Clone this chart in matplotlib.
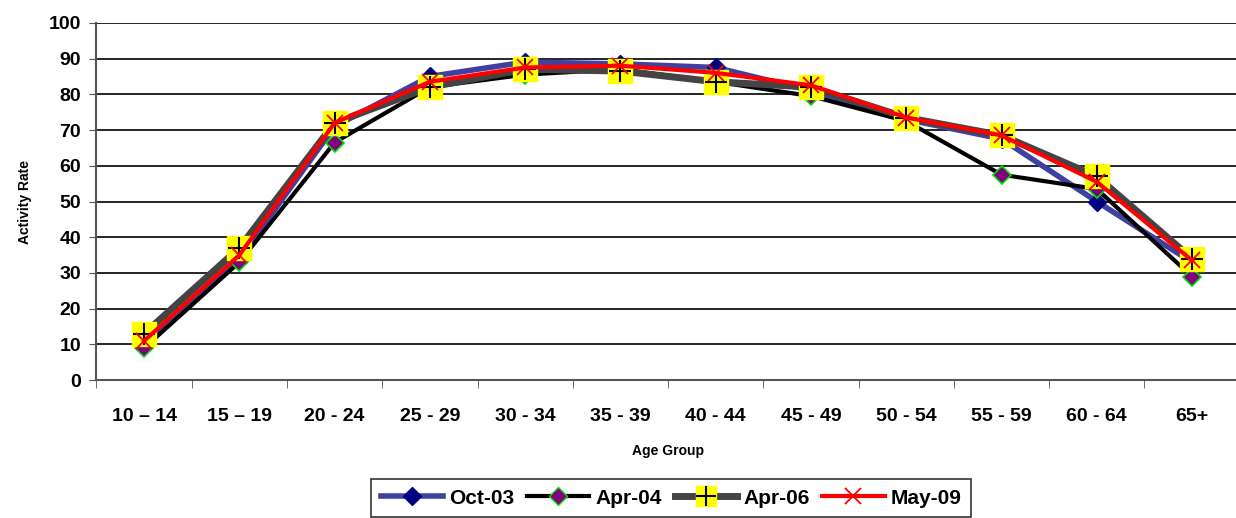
import numpy as np
import matplotlib.pyplot as plt
from matplotlib.lines import Line2D

plt.rcParams['font.family'] = ['Liberation Sans', 'DejaVu Sans']
plt.rcParams['font.weight'] = 'bold'

groups = ["10 \u2013 14", "15 \u2013 19", "20 - 24", "25 - 29", "30 - 34", "35 - 39",
          "40 - 44", "45 - 49", "50 - 54", "55 - 59", "60 - 64", "65+"]

oct03 = [9.5, 34, 71, 85, 89, 88.5, 87.5, 81, 73, 67.5, 50, 33]
apr04 = [9, 33, 66.5, 82, 85.5, 87, 83.5, 79.5, 72.5, 57.5, 53.5, 29]
apr06 = [13, 37, 72, 82, 87, 86.5, 83.5, 82, 73.5, 68.5, 57, 34]
may09 = [11, 35, 72, 83.5, 87.5, 88, 86, 82.5, 73.5, 68.5, 55.5, 33.5]

x = np.arange(len(groups))

fig = plt.figure(figsize=(12.36, 5.18), dpi=100)
ax = fig.add_axes([0.078, 0.266, 0.925, 0.69])

ax.plot(x, oct03, color="#4040a0", lw=4, marker="D", ms=9, mfc="#000080", mec="#000080",
        label="Oct-03", zorder=3)
ax.plot(x, apr04, color="black", lw=3, marker="D", ms=9, mfc="#800080", mec="#00e000",
        mew=1.2, label="Apr-04", zorder=4)
ax.plot(x, apr06, color="#444444", lw=5, marker="s", ms=17, mfc="yellow", mec="yellow",
        label="Apr-06", zorder=5)
ax.plot(x, apr06, color="none", marker="+", ms=16, mec="black", mew=1.5, zorder=6)
ax.plot(x, may09, color="red", lw=3, marker="x", ms=12, mec="red", mew=1.3,
        label="May-09", zorder=7)

ax.set_xlim(-0.5, len(groups) - 0.5)
ax.set_ylim(0, 100)
ax.set_yticks(np.arange(0, 101, 10))
ax.set_xticks(x)
ax.set_xticklabels(groups)
ax.set_xticks(np.arange(-0.5, len(groups), 1), minor=True)
ax.tick_params(axis="x", which="major", length=0, labelsize=14, pad=20)
ax.tick_params(axis="x", which="minor", length=6, color="#555555")
ax.tick_params(axis="y", length=5, labelsize=14, pad=6, color="#555555")
ax.grid(axis="y", color="black", lw=1.2)
ax.set_axisbelow(True)
for s in ["top", "right"]:
    ax.spines[s].set_visible(False)
for s in ["left", "bottom"]:
    ax.spines[s].set_color("#555555")
    ax.spines[s].set_linewidth(1.5)

ax.set_ylabel("Activity Rate", fontsize=10, fontweight="bold", labelpad=12)
ax.set_xlabel("Age Group", fontsize=10, fontweight="bold", labelpad=14)

handles = [
    Line2D([], [], color="#4040a0", lw=4, marker="D", ms=9, mfc="#000080", mec="#000080"),
    Line2D([], [], color="black", lw=3, marker="D", ms=9, mfc="#800080", mec="#00e000"),
    (Line2D([], [], color="#444444", lw=5, marker="s", ms=15, mfc="yellow", mec="yellow"),
     Line2D([], [], color="none", marker="+", ms=14, mec="black", mew=1.5)),
    Line2D([], [], color="red", lw=3, marker="x", ms=12, mec="red", mew=1.3),
]
leg = fig.legend(handles, ["Oct-03", "Apr-04", "Apr-06", "May-09"], loc="upper center",
                 bbox_to_anchor=(0.543, 0.075), ncol=4, frameon=True, fancybox=False,
                 edgecolor="black", fontsize=15, handlelength=3.0, columnspacing=0.6,
                 handletextpad=0.3, borderpad=0.45, borderaxespad=0)
leg.get_frame().set_linewidth(1.2)

plt.savefig("out.png", dpi=100)
